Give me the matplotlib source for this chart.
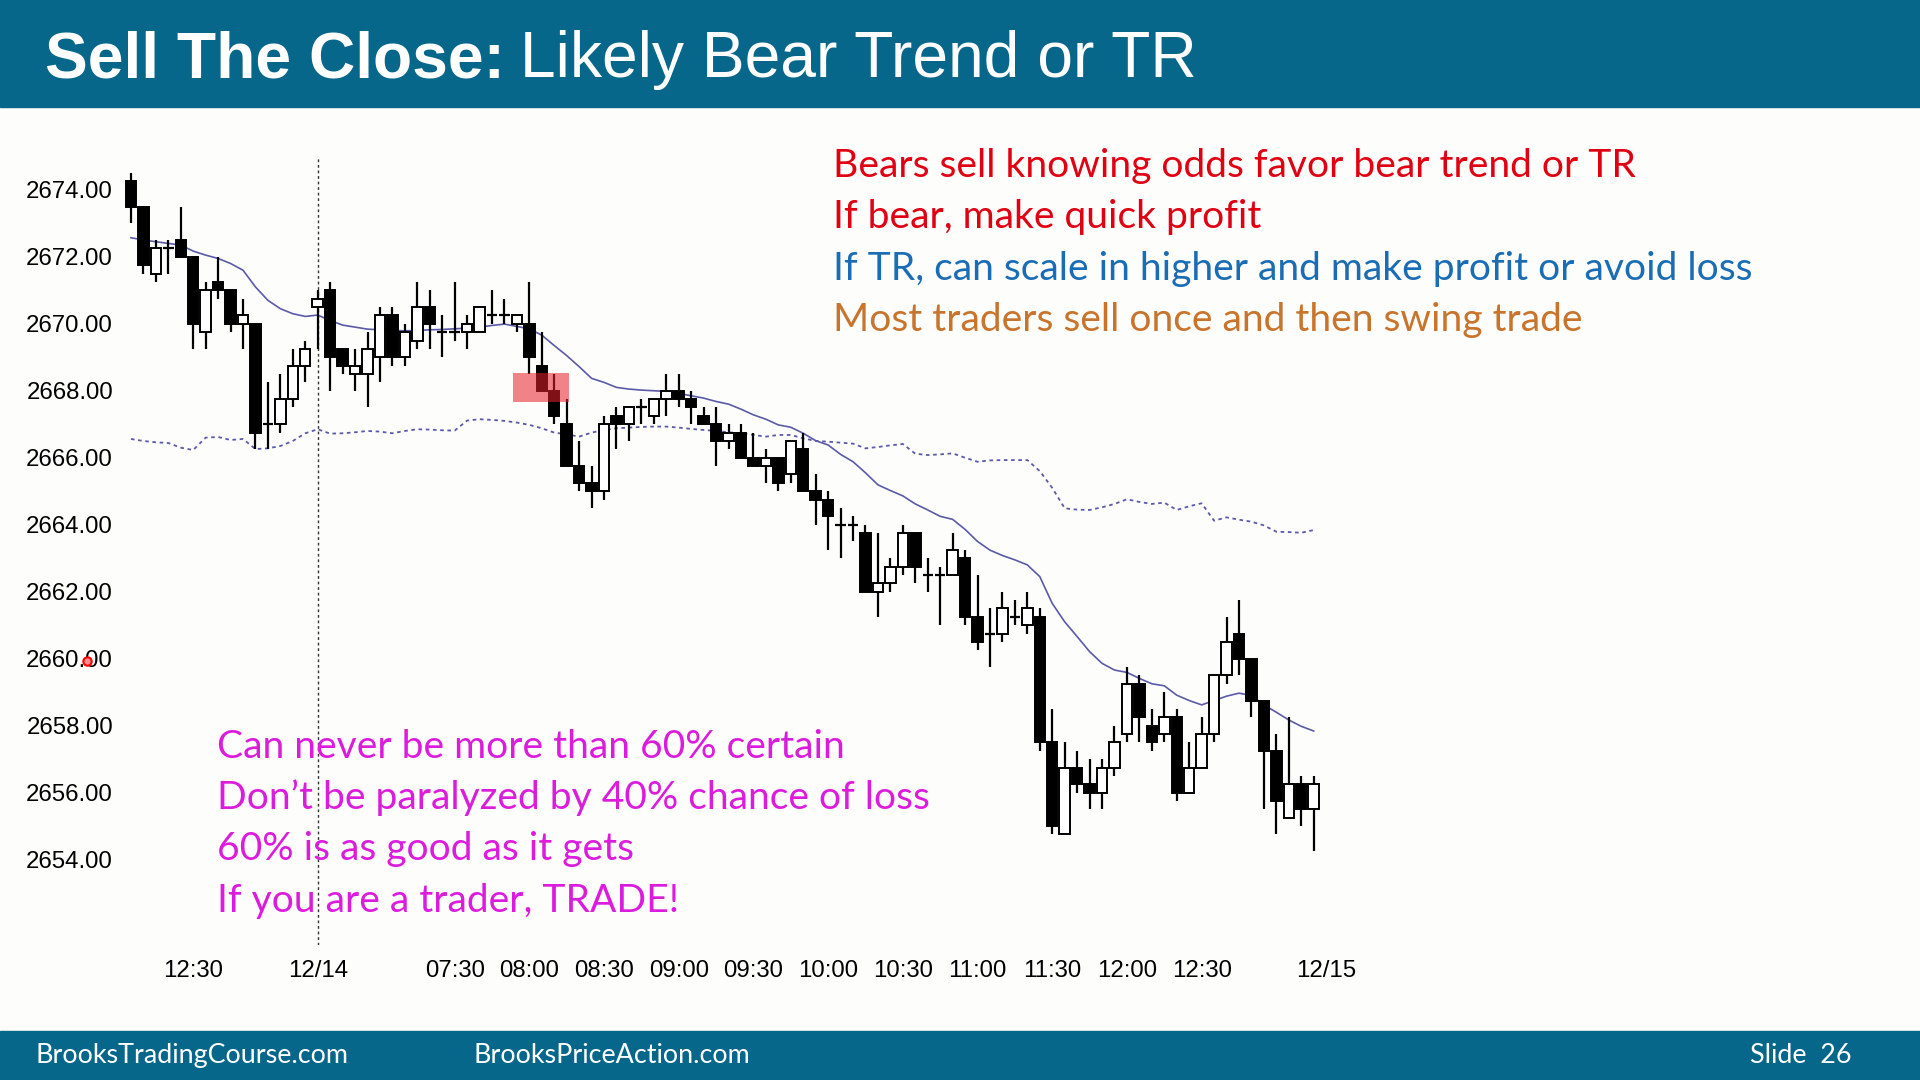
import matplotlib.pyplot as plt
from matplotlib.patches import Rectangle

# 5-min bars, index 0 = 12:05 on 12/13, index 15 = first bar of 12/14
opens = [2674.25, 2673.50, 2671.50, 2672.25, 2672.50, 2672.00, 2669.75, 2671.25, 2671.00, 2670.00,
         2670.00, 2667.00, 2667.00, 2667.75, 2668.75, 2670.50, 2671.00, 2669.25, 2668.50, 2668.50,
         2669.00, 2670.25, 2669.00, 2669.50, 2670.50, 2669.75, 2669.75, 2669.75, 2669.75, 2670.25,
         2670.25, 2670.00, 2670.00, 2668.75, 2668.00, 2667.00, 2665.75, 2665.25, 2665.00, 2667.25,
         2667.00, 2667.50, 2667.25, 2667.75, 2668.00, 2667.75, 2667.25, 2667.00, 2666.50, 2666.75,
         2666.00, 2665.75, 2666.00, 2665.50, 2666.25, 2665.00, 2664.75, 2664.00, 2664.00, 2663.75,
         2662.00, 2662.25, 2662.75, 2663.75, 2662.50, 2662.50, 2662.50, 2663.00, 2661.25, 2660.75,
         2660.75, 2661.25, 2661.00, 2661.25, 2657.50, 2654.75, 2656.75, 2656.25, 2656.00, 2656.75,
         2657.75, 2659.25, 2658.00, 2657.75, 2658.25, 2656.00, 2656.75, 2657.75, 2659.50, 2660.75,
         2660.00, 2658.75, 2657.25, 2655.25, 2656.25, 2655.50]
highs = [2674.50, 2673.50, 2672.50, 2672.50, 2673.50, 2672.00, 2671.25, 2672.00, 2671.00, 2670.75,
         2670.00, 2668.25, 2668.50, 2669.25, 2669.50, 2671.00, 2671.25, 2669.25, 2669.25, 2669.75,
         2670.50, 2670.50, 2670.00, 2671.25, 2671.00, 2670.25, 2671.25, 2670.25, 2670.50, 2671.00,
         2670.75, 2670.25, 2671.25, 2669.75, 2668.50, 2667.75, 2666.50, 2665.75, 2667.25, 2667.50,
         2667.50, 2667.75, 2667.75, 2668.50, 2668.50, 2668.00, 2667.50, 2667.50, 2667.00, 2667.00,
         2666.75, 2666.25, 2666.00, 2666.50, 2666.75, 2665.50, 2665.00, 2664.50, 2664.25, 2664.00,
         2663.75, 2663.00, 2664.00, 2663.75, 2663.00, 2662.75, 2663.75, 2663.25, 2662.50, 2661.50,
         2662.00, 2661.75, 2662.00, 2661.50, 2658.50, 2657.50, 2657.25, 2657.00, 2657.00, 2658.00,
         2659.75, 2659.50, 2658.50, 2659.00, 2658.50, 2657.50, 2658.25, 2659.50, 2661.25, 2661.75,
         2660.00, 2658.75, 2657.75, 2658.25, 2656.50, 2656.50]
lows = [2673.00, 2671.50, 2671.25, 2671.50, 2672.00, 2669.25, 2669.25, 2670.75, 2669.75, 2669.25,
        2666.25, 2666.25, 2666.75, 2667.50, 2668.25, 2669.25, 2668.00, 2668.50, 2668.00, 2667.50,
        2668.25, 2668.75, 2668.75, 2669.25, 2669.25, 2669.00, 2669.50, 2669.25, 2669.75, 2670.00,
        2670.00, 2669.75, 2668.50, 2668.00, 2667.00, 2665.75, 2665.00, 2664.50, 2664.75, 2666.25,
        2666.50, 2667.00, 2667.00, 2667.25, 2667.50, 2667.00, 2667.00, 2665.75, 2666.25, 2666.00,
        2665.75, 2665.25, 2665.00, 2665.25, 2665.00, 2664.00, 2663.25, 2663.00, 2663.50, 2662.00,
        2661.25, 2662.00, 2662.50, 2662.25, 2662.00, 2661.00, 2662.50, 2661.00, 2660.25, 2659.75,
        2660.50, 2661.00, 2660.75, 2657.25, 2654.75, 2654.75, 2656.00, 2655.50, 2655.50, 2656.50,
        2657.50, 2657.50, 2657.25, 2657.50, 2655.75, 2656.00, 2656.75, 2657.50, 2659.25, 2659.50,
        2658.25, 2655.50, 2654.75, 2655.25, 2655.00, 2654.25]
closes = [2673.50, 2671.75, 2672.25, 2672.25, 2672.00, 2670.00, 2671.00, 2671.00, 2670.00, 2670.25,
          2666.75, 2667.00, 2667.75, 2668.75, 2669.25, 2670.75, 2669.00, 2668.75, 2668.75, 2669.25,
          2670.25, 2669.00, 2669.75, 2670.50, 2670.00, 2669.75, 2669.75, 2670.00, 2670.50, 2670.25,
          2670.25, 2670.25, 2669.00, 2668.00, 2667.25, 2665.75, 2665.25, 2665.00, 2667.00, 2667.00,
          2667.50, 2667.50, 2667.75, 2668.00, 2667.75, 2667.50, 2667.00, 2666.50, 2666.75, 2666.00,
          2665.75, 2666.00, 2665.25, 2666.50, 2665.00, 2664.75, 2664.25, 2664.00, 2664.00, 2662.00,
          2662.25, 2662.75, 2663.75, 2662.75, 2662.50, 2662.50, 2663.25, 2661.25, 2660.50, 2660.75,
          2661.50, 2661.25, 2661.50, 2657.50, 2655.00, 2656.75, 2656.25, 2656.00, 2656.75, 2657.50,
          2659.25, 2658.25, 2657.50, 2658.25, 2656.00, 2656.75, 2657.75, 2659.50, 2660.50, 2660.00,
          2658.75, 2657.25, 2655.75, 2656.25, 2655.50, 2656.25]

ema = [2672.57, 2672.50, 2672.45, 2672.40, 2672.35, 2672.17, 2672.05, 2671.95, 2671.80, 2671.60,
       2671.10, 2670.70, 2670.45, 2670.30, 2670.22, 2670.26, 2670.10, 2669.96, 2669.90, 2669.84,
       2669.82, 2669.80, 2669.79, 2669.80, 2669.82, 2669.83, 2669.85, 2669.87, 2669.90, 2669.95,
       2669.99, 2669.92, 2669.85, 2669.66, 2669.35, 2669.05, 2668.72, 2668.37, 2668.25, 2668.10,
       2668.05, 2668.02, 2668.00, 2667.98, 2667.92, 2667.85, 2667.78, 2667.68, 2667.60, 2667.45,
       2667.28, 2667.15, 2666.98, 2666.91, 2666.73, 2666.51, 2666.38, 2666.10, 2665.88, 2665.55,
       2665.19, 2665.02, 2664.86, 2664.62, 2664.44, 2664.25, 2664.16, 2663.86, 2663.50, 2663.24,
       2663.08, 2662.95, 2662.80, 2662.45, 2661.65, 2661.10, 2660.66, 2660.21, 2659.86, 2659.66,
       2659.59, 2659.41, 2659.25, 2659.19, 2658.91, 2658.75, 2658.62, 2658.75, 2658.88, 2658.97,
       2658.90, 2658.62, 2658.40, 2658.17, 2657.98, 2657.84]
band = [2666.56, 2666.50, 2666.46, 2666.44, 2666.30, 2666.23, 2666.60, 2666.62, 2666.53, 2666.56,
        2666.26, 2666.28, 2666.35, 2666.50, 2666.73, 2666.85, 2666.72, 2666.73, 2666.76, 2666.80,
        2666.78, 2666.73, 2666.80, 2666.85, 2666.84, 2666.82, 2666.81, 2667.11, 2667.15, 2667.13,
        2667.10, 2667.05, 2666.98, 2666.88, 2666.75, 2666.70, 2666.63, 2666.75, 2666.83, 2666.88,
        2666.90, 2666.92, 2666.93, 2666.93, 2666.90, 2666.86, 2666.83, 2666.80, 2666.76, 2666.73,
        2666.68, 2666.63, 2666.68, 2666.68, 2666.58, 2666.50, 2666.48, 2666.45, 2666.42, 2666.28,
        2666.32, 2666.37, 2666.41, 2666.12, 2666.08, 2666.10, 2666.13, 2666.00, 2665.88, 2665.92,
        2665.93, 2665.93, 2665.93, 2665.60, 2665.10, 2664.49, 2664.45, 2664.44, 2664.52, 2664.62,
        2664.76, 2664.68, 2664.62, 2664.66, 2664.44, 2664.55, 2664.64, 2664.12, 2664.22, 2664.15,
        2664.09, 2663.98, 2663.79, 2663.78, 2663.76, 2663.84]

tick_pos = [5, 15, 26, 32, 38, 44, 50, 56, 62, 68, 74, 80, 86, 96]
tick_labels = ["12:30", "12/14", "07:30", "08:00", "08:30", "09:00", "09:30", "10:00",
               "10:30", "11:00", "11:30", "12:00", "12:30", "12/15"]
price_ticks = [2654, 2656, 2658, 2660, 2662, 2664, 2666, 2668, 2670, 2672, 2674]

top_lines = ["Bears sell knowing odds favor bear trend or TR",
             "If bear, make quick profit",
             "If TR, can scale in higher and make profit or avoid loss",
             "Most traders sell once and then swing trade"]
top_colors = ["#e00012", "#e00012", "#1a6db4", "#c8742c"]
bottom_lines = ["Can never be more than 60% certain",
                "Don\u2019t be paralyzed by 40% chance of loss",
                "60% is as good as it gets",
                "If you are a trader, TRADE!"]

W, H = 1920, 1080
fig = plt.figure(figsize=(19.2, 10.8), dpi=100, facecolor="#fdfdfb")

# header / footer bars
fig.add_artist(Rectangle((0, 1 - 107 / H), 1, 107 / H, transform=fig.transFigure, color="#07678a", zorder=0))
fig.add_artist(Rectangle((0, 0), 1, 49 / H, transform=fig.transFigure, color="#07678a", zorder=0))

fig.text(45 / W, 1 - 77 / H, "Sell The Close:", color="white", fontsize=46.2,
         fontweight="bold", family="Liberation Sans", va="baseline")
fig.text(520 / W, 1 - 77 / H, "Likely Bear Trend or TR", color="white", fontsize=46.2,
         family="Liberation Sans", va="baseline")

fig.text(35 / W, 17 / H, "BrooksTradingCourse.com", color="white", fontsize=19.4, family="Lato", va="baseline")
fig.text(474 / W, 17 / H, "BrooksPriceAction.com", color="white", fontsize=19.4, family="Lato", va="baseline")
fig.text(1851 / W, 17 / H, "Slide  26", color="white", fontsize=19.4, family="Lato", va="baseline", ha="right")

# chart
ax = fig.add_axes([120 / W, 1 - 945 / H, 1240 / W, 788 / H])
ax.set_facecolor("none")
ax.set_xlim(-0.88, 98.72)
ax.set_ylim(2651.45, 2674.98)
for s in ax.spines.values():
    s.set_visible(False)

ax.axvline(15, color="#333333", lw=1.0, ls=(0, (2, 2)), zorder=1)

ax.plot(range(len(ema)), ema, color="#5a5aa8", lw=1.2, zorder=2)
ax.plot(range(len(band)), band, color="#5a5aa8", lw=1.3, ls=(0, (2, 2)), zorder=2)

bw = 0.84
for i in range(len(opens)):
    o, h, l, c = opens[i], highs[i], lows[i], closes[i]
    ax.vlines(i, l, h, color="black", lw=1.6, zorder=3)
    if o == c:
        ax.hlines(o, i - bw / 2, i + bw / 2, color="black", lw=1.6, zorder=4)
    else:
        fc = "black" if c < o else "white"
        ax.bar(i, abs(c - o), bottom=min(o, c), width=bw, color=fc,
               edgecolor="black", linewidth=1.4, zorder=4)

ax.add_patch(Rectangle((30.7, 2667.67), 4.5, 0.87, color="#e8202a", alpha=0.55, lw=0, zorder=5))

ax.set_yticks(price_ticks)
ax.set_yticklabels(["%.2f" % p for p in price_ticks], family="Liberation Sans", fontsize=17.3)
ax.set_xticks(tick_pos)
ax.set_xticklabels(tick_labels, family="Liberation Sans", fontsize=17.3)
ax.tick_params(axis="y", length=0, pad=5)
ax.tick_params(axis="x", length=0, pad=11)

# annotations
for k in range(4):
    fig.text(833 / W, 1 - (177 + 51.3 * k) / H, top_lines[k], color=top_colors[k],
             fontsize=28.1, family="Lato", va="baseline")
    fig.text(217 / W, 1 - (758 + 51.2 * k) / H, bottom_lines[k], color="#dc1cdc",
             fontsize=28.1, family="Lato", va="baseline")

# cursor mark on the axis
fig.add_artist(plt.Line2D([87 / W], [1 - 661 / H], marker="o", ms=6, mfc="#ff9090",
                          mec="red", mew=1.5, transform=fig.transFigure))

fig.savefig("out.png", dpi=100, facecolor=fig.get_facecolor())
